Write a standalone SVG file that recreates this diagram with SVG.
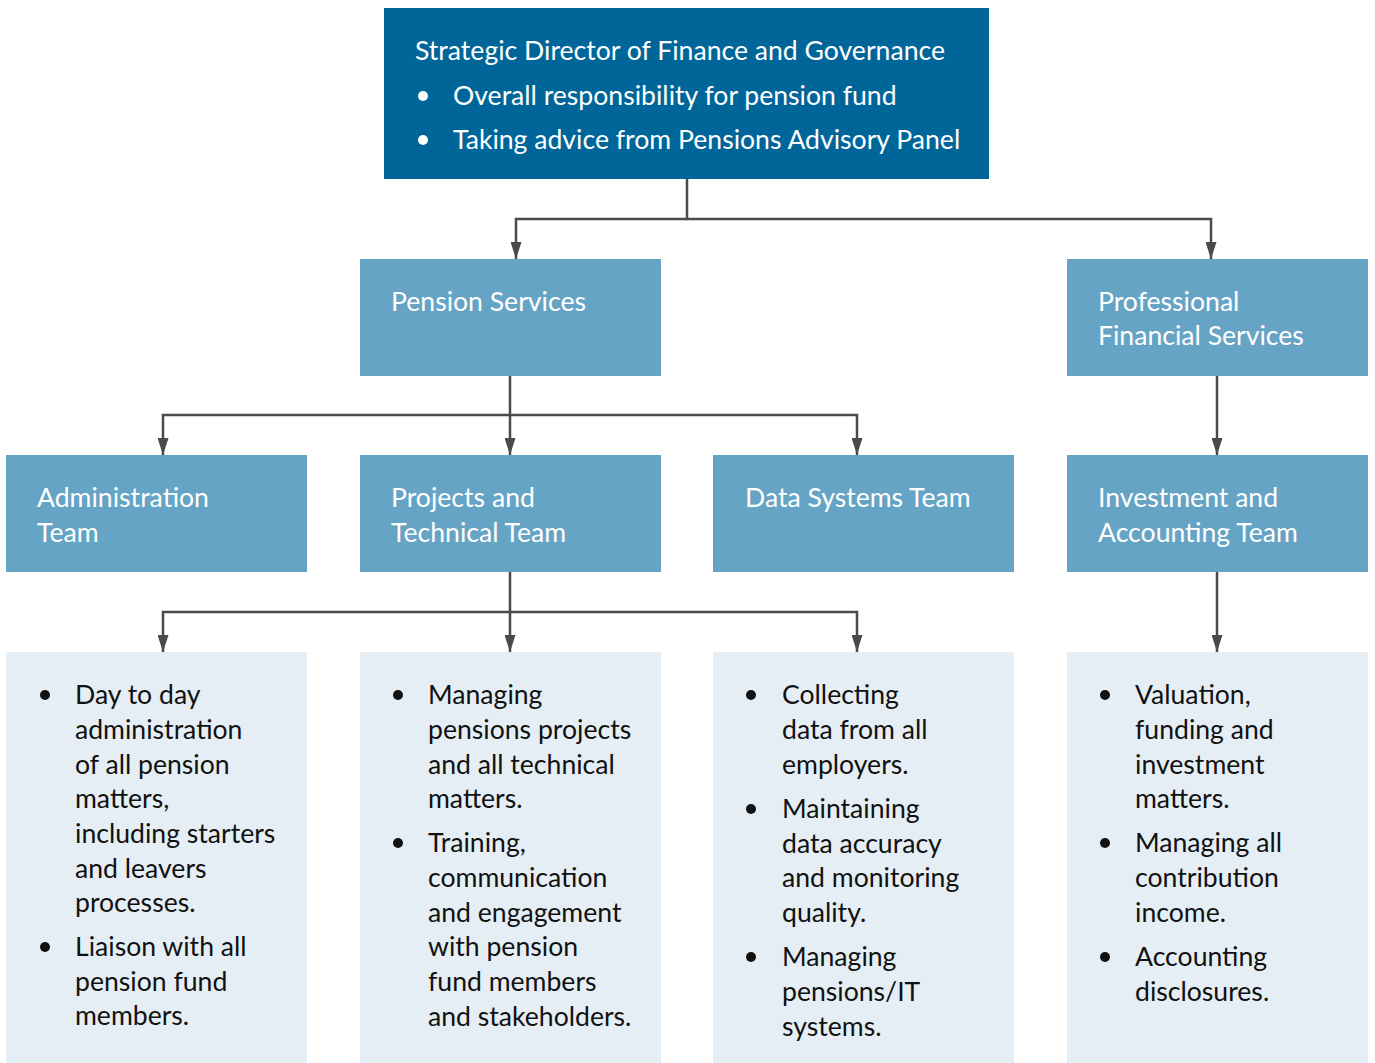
<svg xmlns="http://www.w3.org/2000/svg" width="1375" height="1063" viewBox="0 0 1375 1063">
  <style>
    text { font-family: Lato, "Open Sans", "Liberation Sans", sans-serif; font-size: 26.6px; }
    .dark { fill: #006699; }
    .mid { fill: #66a4c5; }
    .light { fill: #e5eef4; }
    .w { fill: #ffffff; }
    .k { fill: #111111; }
    .wb { fill: #ffffff; }
    .kb { fill: #111111; }
    .conn { fill: none; stroke: #4a4a4a; stroke-width: 2.5; }
  </style>
  <defs>
    <marker id="head" viewBox="0 0 17 11" refX="17" refY="5.5" markerWidth="17" markerHeight="11" markerUnits="userSpaceOnUse" orient="auto">
      <path d="M0,0 L17,5.5 L0,11 Z" fill="#4a4a4a"/>
    </marker>
  </defs>

  <!-- connectors -->
  <g id="connectors" class="conn">
    <path d="M687,179 V219 H516 V259" marker-end="url(#head)"/>
    <path d="M687,219 H1211 V259" marker-end="url(#head)"/>
    <path d="M510,376 V415 H163 V455" marker-end="url(#head)"/>
    <path d="M510,415 V455" marker-end="url(#head)"/>
    <path d="M510,415 H857 V455" marker-end="url(#head)"/>
    <path d="M1217,376 V455" marker-end="url(#head)"/>
    <path d="M510,572 V612 H163 V652" marker-end="url(#head)"/>
    <path d="M510,612 V652" marker-end="url(#head)"/>
    <path d="M510,612 H857 V652" marker-end="url(#head)"/>
    <path d="M1217,572 V652" marker-end="url(#head)"/>
  </g>

  <!-- top: director -->
  <g id="director">
    <rect class="dark" x="384" y="8" width="605" height="171"/>
    <text class="w" x="415" y="60">Strategic Director of Finance and Governance</text>
    <circle class="wb" cx="423" cy="96" r="5"/>
    <text class="w" x="453" y="105">Overall responsibility for pension fund</text>
    <circle class="wb" cx="423" cy="140" r="5"/>
    <text class="w" x="453" y="149">Taking advice from Pensions Advisory Panel</text>
  </g>

  <!-- second level -->
  <g id="pension-services">
    <rect class="mid" x="360" y="259" width="301" height="117"/>
    <text class="w" x="391" y="311">Pension Services</text>
  </g>
  <g id="professional-financial-services">
    <rect class="mid" x="1067" y="259" width="301" height="117"/>
    <text class="w" x="1098" y="311">Professional</text>
    <text class="w" x="1098" y="345">Financial Services</text>
  </g>

  <!-- teams -->
  <g id="administration-team">
    <rect class="mid" x="6" y="455" width="301" height="117"/>
    <text class="w" x="37" y="507">Administration</text>
    <text class="w" x="37" y="542">Team</text>
  </g>
  <g id="projects-technical-team">
    <rect class="mid" x="360" y="455" width="301" height="117"/>
    <text class="w" x="391" y="507">Projects and</text>
    <text class="w" x="391" y="542">Technical Team</text>
  </g>
  <g id="data-systems-team">
    <rect class="mid" x="713" y="455" width="301" height="117"/>
    <text class="w" x="745" y="507">Data Systems Team</text>
  </g>
  <g id="investment-accounting-team">
    <rect class="mid" x="1067" y="455" width="301" height="117"/>
    <text class="w" x="1098" y="507">Investment and</text>
    <text class="w" x="1098" y="542">Accounting Team</text>
  </g>

  <!-- duties -->
  <g id="administration-duties">
    <rect class="light" x="6" y="652" width="301" height="411"/>
    <circle class="kb" cx="45" cy="695" r="5"/>
    <circle class="kb" cx="45" cy="947" r="5"/>
    <text class="k">
      <tspan x="75" y="704">Day to day</tspan>
      <tspan x="75" y="739">administration</tspan>
      <tspan x="75" y="774">of all pension</tspan>
      <tspan x="75" y="808">matters,</tspan>
      <tspan x="75" y="843">including starters</tspan>
      <tspan x="75" y="878">and leavers</tspan>
      <tspan x="75" y="912">processes.</tspan>
      <tspan x="75" y="956">Liaison with all</tspan>
      <tspan x="75" y="991">pension fund</tspan>
      <tspan x="75" y="1025">members.</tspan>
    </text>
  </g>
  <g id="projects-duties">
    <rect class="light" x="360" y="652" width="301" height="411"/>
    <circle class="kb" cx="398" cy="695" r="5"/>
    <circle class="kb" cx="398" cy="843" r="5"/>
    <text class="k">
      <tspan x="428" y="704">Managing</tspan>
      <tspan x="428" y="739">pensions projects</tspan>
      <tspan x="428" y="774">and all technical</tspan>
      <tspan x="428" y="808">matters.</tspan>
      <tspan x="428" y="852">Training,</tspan>
      <tspan x="428" y="887">communication</tspan>
      <tspan x="428" y="922">and engagement</tspan>
      <tspan x="428" y="956">with pension</tspan>
      <tspan x="428" y="991">fund members</tspan>
      <tspan x="428" y="1026">and stakeholders.</tspan>
    </text>
  </g>
  <g id="data-duties">
    <rect class="light" x="713" y="652" width="301" height="411"/>
    <circle class="kb" cx="751" cy="695" r="5"/>
    <circle class="kb" cx="751" cy="809" r="5"/>
    <circle class="kb" cx="751" cy="957" r="5"/>
    <text class="k">
      <tspan x="782" y="704">Collecting</tspan>
      <tspan x="782" y="739">data from all</tspan>
      <tspan x="782" y="774">employers.</tspan>
      <tspan x="782" y="818">Maintaining</tspan>
      <tspan x="782" y="853">data accuracy</tspan>
      <tspan x="782" y="887">and monitoring</tspan>
      <tspan x="782" y="922">quality.</tspan>
      <tspan x="782" y="966">Managing</tspan>
      <tspan x="782" y="1001">pensions/IT</tspan>
      <tspan x="782" y="1036">systems.</tspan>
    </text>
  </g>
  <g id="investment-duties">
    <rect class="light" x="1067" y="652" width="301" height="411"/>
    <circle class="kb" cx="1105" cy="695" r="5"/>
    <circle class="kb" cx="1105" cy="843" r="5"/>
    <circle class="kb" cx="1105" cy="957" r="5"/>
    <text class="k">
      <tspan x="1135" y="704">Valuation,</tspan>
      <tspan x="1135" y="739">funding and</tspan>
      <tspan x="1135" y="774">investment</tspan>
      <tspan x="1135" y="808">matters.</tspan>
      <tspan x="1135" y="852">Managing all</tspan>
      <tspan x="1135" y="887">contribution</tspan>
      <tspan x="1135" y="922">income.</tspan>
      <tspan x="1135" y="966">Accounting</tspan>
      <tspan x="1135" y="1001">disclosures.</tspan>
    </text>
  </g>
</svg>
